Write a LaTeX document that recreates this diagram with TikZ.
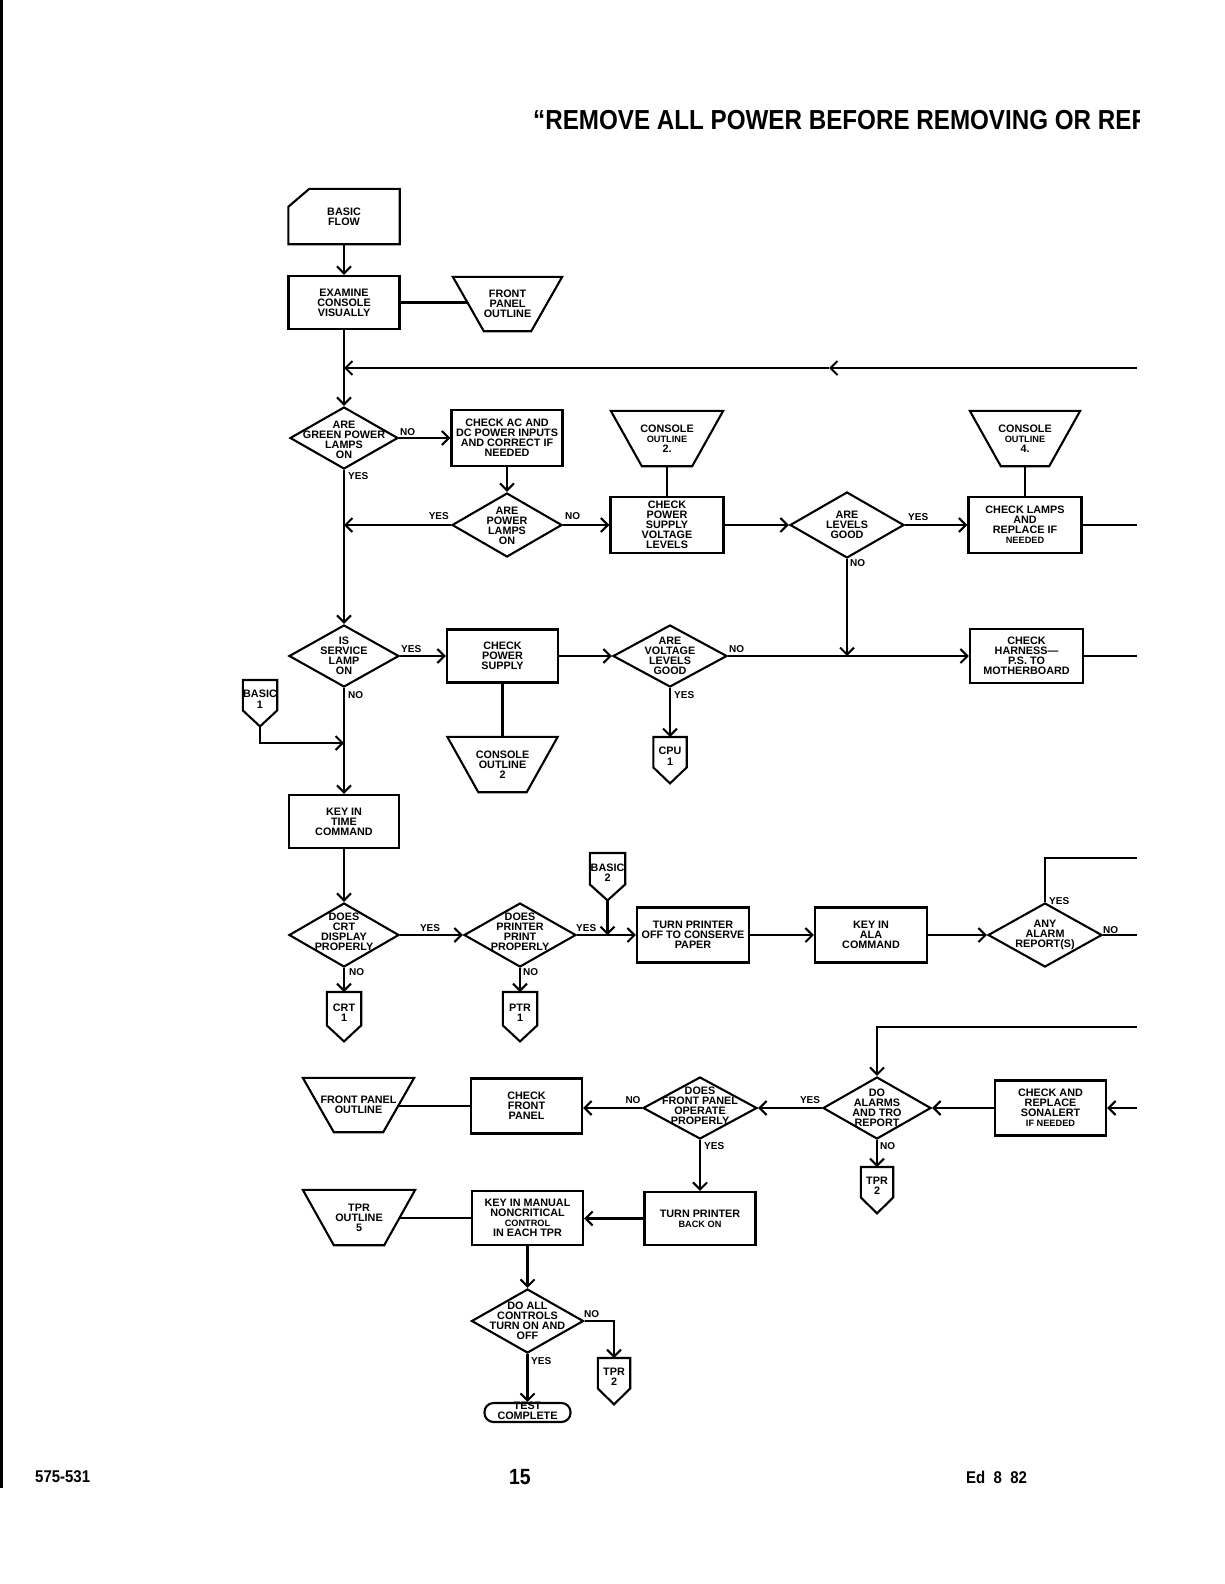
\documentclass[tikz,border=0pt]{standalone}
\usepackage{fontspec}
\setmainfont{Liberation Sans}
\newfontfamily\cond{Liberation Sans}[FakeStretch=0.88]
\usetikzlibrary{arrows.meta,shapes.geometric,calc}

\newcommand\ndfont{\fontsize{10.8pt}{10.1pt}\selectfont\bfseries}
\newcommand\lbfont{\fontsize{10pt}{10pt}\selectfont\bfseries}
\newcommand\smtxt{\fontsize{9.2pt}{10.1pt}\selectfont}

\tikzset{
 shp/.style={line width=2.1pt, line join=miter},
 box/.style={draw, line width=2.1pt, inner sep=0pt, align=center, font=\ndfont, minimum width=111pt, minimum height=55pt},
 txt/.style={inner sep=0pt, align=center, font=\ndfont},
 dia/.style={draw, diamond, line width=2.1pt, inner sep=0pt},
 trapn/.style={inner sep=0pt, align=center, font=\ndfont},
 connn/.style={inner sep=0pt},
 lbl/.style={inner sep=0pt, font=\lbfont},
 arr/.style={-{Straight Barb[length=7pt,width=14pt]}, line width=2.1pt},
 ln/.style={line width=2.1pt},
}

% trapezoid (wide top): name, x, y, top width, height, text
\newcommand\trapz[6]{%
  \node[trapn, minimum width=#4pt, minimum height=#5pt] (#1) at (#2,#3) {#6};
  \draw[shp] (#1.north west) -- (#1.north east) -- ([xshift=-31pt]#1.south east) -- ([xshift=31pt]#1.south west) -- cycle;
  \coordinate (#1-l) at ([xshift=15.5pt]#1.west);
  \coordinate (#1-r) at ([xshift=-15.5pt]#1.east);
}
% off-page connector: name, x, y top, width, body height, text
\newcommand\offp[6]{%
  \node[connn, minimum width=#4pt, minimum height=#5pt, anchor=north] (#1) at (#2,#3) {};
  \draw[shp] (#1.north west) -- (#1.north east) -- (#1.south east) -- ([yshift=-16pt]#1.south) -- (#1.south west) -- cycle;
  \node[txt] (#1-t) at ([yshift=-4pt]#1.center) {#6};
  \coordinate (#1-tip) at ([yshift=-16pt]#1.south);
}

\begin{document}
\begin{tikzpicture}[x=1pt,y=-1pt]
\useasboundingbox (0,0) rectangle (1224,1584);

% page edge and header / footer
\draw[line width=3pt] (1.5,0) -- (1.5,1488);
\begin{scope}
\clip (0,0) rectangle (1139,1584);
\node[anchor=base west, inner sep=0pt, font={\cond\fontsize{27.5pt}{30pt}\selectfont\bfseries}] (hdr) at (533,130) {“REMOVE ALL POWER BEFORE REMOVING OR REP};
\end{scope}
\node[anchor=base west, inner sep=0pt, font={\cond\fontsize{17pt}{17pt}\selectfont\bfseries}] (f1) at (35,1482) {575-531};
\node[anchor=base west, inner sep=0pt, font={\cond\fontsize{22pt}{22pt}\selectfont\bfseries}] (f2) at (509,1484) {15};
\node[anchor=base west, inner sep=0pt, font={\cond\fontsize{17pt}{17pt}\selectfont\bfseries}] (f3) at (966,1483) {Ed\ \ 8\ \ 82};

% ---------- row 1 ----------
\node[txt, minimum width=111pt, minimum height=55pt] (basic) at (344,216.5) {BASIC\\FLOW};
\draw[shp] ([yshift=-18pt]basic.north west) -- ([xshift=21pt]basic.north west) -- (basic.north east) -- (basic.south east) -- (basic.south west) -- cycle;
\node[box, minimum height=53pt] (examine) at (344,302.5) {EXAMINE\\CONSOLE\\VISUALLY};
\trapz{fpo}{507.5}{304}{109}{54}{FRONT\\PANEL\\OUTLINE}

% ---------- row 2 ----------
\node[dia, minimum width=108pt, minimum height=62pt] (green) at (344,438) {};
\node[txt] (green-t) at (344,440) {ARE\\GREEN POWER\\LAMPS\\ON};
\node[box, minimum height=56pt] (checkac) at (507,438) {CHECK AC AND\\DC POWER INPUTS\\AND CORRECT IF\\NEEDED};
\trapz{co2}{667}{438.5}{112}{55}{CONSOLE\\{\smtxt OUTLINE}\\2.}
\node[dia, minimum width=110pt, minimum height=64pt] (plamps) at (507,525) {};
\node[txt] (plamps-t) at (507,526) {ARE\\POWER\\LAMPS\\ON};
\node[box, minimum width=113pt, minimum height=56pt] (cpsvl) at (667,525) {CHECK\\POWER\\SUPPLY\\VOLTAGE\\LEVELS};
\node[dia, minimum width=114pt, minimum height=66pt] (levels) at (847,525) {};
\node[txt] (levels-t) at (847,525) {ARE\\LEVELS\\GOOD};
\trapz{co4}{1025}{438.5}{110}{55}{CONSOLE\\{\smtxt OUTLINE}\\4.}
\node[box, minimum width=113pt, minimum height=56pt] (lamps) at (1025,525) {CHECK LAMPS\\AND\\REPLACE IF\\{\smtxt NEEDED}};

% ---------- row 3 ----------
\node[dia, minimum width=110pt, minimum height=62pt] (service) at (344,656) {};
\node[txt] (service-t) at (344,656) {IS\\SERVICE\\LAMP\\ON};
\node[box, minimum height=53pt] (cps) at (502.5,656) {CHECK\\POWER\\SUPPLY};
\node[dia, minimum width=114pt, minimum height=62pt] (volt) at (670,656) {};
\node[txt] (volt-t) at (670,656) {ARE\\VOLTAGE\\LEVELS\\GOOD};
\node[box, minimum width=113pt, minimum height=54pt] (harness) at (1026.5,656) {CHECK\\HARNESS—\\P.S. TO\\MOTHERBOARD};
\trapz{co2b}{502.5}{764.5}{110}{55}{CONSOLE\\OUTLINE\\2}
\offp{cpu}{670}{737}{33}{30}{CPU\\1}
\offp{bas1}{260}{680}{34}{30}{BASIC\\1}
\node[box, minimum width=110pt, minimum height=53pt] (keytime) at (344,821.5) {KEY IN\\TIME\\COMMAND};

% ---------- row 4 ----------
\node[dia, minimum width=110pt, minimum height=64pt] (crt) at (344,935) {};
\node[txt] (crt-t) at (344,932) {DOES\\CRT\\DISPLAY\\PROPERLY};
\node[dia, minimum width=112pt, minimum height=64pt] (prn) at (520,935) {};
\node[txt] (prn-t) at (520,932) {DOES\\PRINTER\\PRINT\\PROPERLY};
\offp{crtc}{344}{992}{34}{33}{CRT\\1}
\offp{ptrc}{520}{992}{34}{33}{PTR\\1}
\offp{bas2}{607.5}{853}{35}{31}{BASIC\\2}
\node[box, minimum width=112pt] (turnoff) at (693,935) {TURN PRINTER\\OFF TO CONSERVE\\PAPER};
\node[box, minimum width=112pt] (keyala) at (871,935) {KEY IN\\ALA\\COMMAND};
\node[dia, minimum width=114pt, minimum height=64pt] (anyal) at (1045,935) {};
\node[txt] (anyal-t) at (1045,935) {ANY\\ALARM\\REPORT(S)};

% ---------- row 5 ----------
\trapz{fpo2}{358.5}{1105}{111}{54}{FRONT PANEL\\OUTLINE}
\node[box] (cfp) at (526.5,1106) {CHECK\\FRONT\\PANEL};
\node[dia, minimum width=114pt, minimum height=62pt] (dfp) at (700,1108) {};
\node[txt] (dfp-t) at (700,1106) {DOES\\FRONT PANEL\\OPERATE\\PROPERLY};
\node[dia, minimum width=108pt, minimum height=62pt] (doal) at (877,1108) {};
\node[txt] (doal-t) at (877,1108) {DO\\ALARMS\\AND TRO\\REPORT};
\node[box] (sonal) at (1050.5,1108) {CHECK AND\\REPLACE\\SONALERT\\{\smtxt IF NEEDED}};
\offp{tpra}{877}{1167}{32}{30}{TPR\\2}

% ---------- row 6 ----------
\trapz{tpr5}{359}{1217.5}{112}{55}{TPR\\OUTLINE\\5}
\node[box, minimum height=54pt] (keyman) at (527.5,1218) {KEY IN MANUAL\\NONCRITICAL\\{\smtxt CONTROL}\\IN EACH TPR};
\node[box, minimum height=53pt] (tpb) at (700,1218.5) {TURN PRINTER\\{\smtxt BACK ON}};

% ---------- row 7 ----------
\node[dia, minimum width=112pt, minimum height=64pt] (doall) at (527.5,1321) {};
\node[txt] (doall-t) at (527.5,1321) {DO ALL\\CONTROLS\\TURN ON AND\\OFF};
\offp{tprb}{614}{1358}{32}{30}{TPR\\2}
\node[draw, line width=2.1pt, rounded corners=9pt, minimum width=86pt, minimum height=19pt, inner sep=0pt] (test) at (527.5,1412.5) {};
\node[txt] (test-t) at (527.5,1411) {TEST\\COMPLETE};

% ---------- free ends ----------
\coordinate (R1) at (1137,368);
\coordinate (M1) at (829,368);
\coordinate (R2) at (1137,525);
\coordinate (R3) at (1137,656);
\coordinate (R4) at (1137,858);
\coordinate (R5) at (1137,935);
\coordinate (R6) at (1137,1027);
\coordinate (R7) at (1137,1108);
\coordinate (J1) at (344,743);

% ---------- connectors ----------
\draw[arr] (basic.south) -- (examine.north);
\draw[ln] (examine.east) -- (examine.east -| fpo-l);
\draw[arr] (examine.south) -- (green.north);
\draw[arr] (R1) -- (M1);
\draw[arr] (M1) -- (M1 -| green.north);
\draw[arr] (green.east) -- (green.east -| checkac.west);
\draw[arr] (checkac.south) -- (plamps.north);
\draw[arr] (plamps.west) -- (plamps.west -| green.south);
\draw[arr] (green.south) -- (service.north);
\draw[arr] (plamps.east) -- (plamps.east -| cpsvl.west);
\draw[ln] (co2.south) -- (cpsvl.north);
\draw[arr] (cpsvl.east) -- (levels.west);
\draw[arr] (levels.east) -- (lamps.west);
\draw[ln] (co4.south) -- (lamps.north);
\draw[ln] (lamps.east) -- (R2);
\draw[arr] (levels.south) -- (levels.south |- volt.east);
\draw[arr] (service.east) -- (cps.west);
\draw[arr] (cps.east) -- (volt.west);
\draw[arr] (volt.east) -- (harness.west);
\draw[ln] (harness.east) -- (R3);
\draw[ln] (cps.south) -- (co2b.north);
\draw[arr] (volt.south) -- (cpu.north);
\draw[arr] (bas1-tip) |- (J1);
\draw[arr] (service.south) -- (keytime.north);
\draw[arr] (keytime.south) -- (crt.north);
\draw[arr] (crt.east) -- (prn.west);
\draw[arr] (crt.south) -- (crtc.north);
\draw[arr] (prn.south) -- (ptrc.north);
\draw[arr] (prn.east) -- (turnoff.west);
\draw[arr] (bas2-tip) -- (bas2-tip |- prn.east);
\draw[arr] (turnoff.east) -- (keyala.west);
\draw[arr] (keyala.east) -- (anyal.west);
\draw[ln] (anyal.north) |- (R4);
\draw[ln] (anyal.east) -- (R5);
\draw[arr] (R6) -| (doal.north);
\draw[arr] (R7) -- (sonal.east);
\draw[arr] (sonal.west) -- (doal.east);
\draw[arr] (doal.west) -- (dfp.east);
\draw[arr] (doal.south) -- (tpra.north);
\draw[arr] (dfp.west) -- (dfp.west -| cfp.east);
\draw[ln] (cfp.west) -- (cfp.west -| fpo2-r);
\draw[arr] (dfp.south) -- (tpb.north);
\draw[arr] (tpb.west) -- (tpb.west -| keyman.east);
\draw[ln] (keyman.west) -- (keyman.west -| tpr5-r);
\draw[arr] (keyman.south) -- (doall.north);
\draw[arr] (doall.east) -| (tprb.north);
\draw[arr] (doall.south) -- (test.north);

% ---------- labels ----------
\node[lbl, anchor=west] (l1) at (400,432) {NO};
\node[lbl, anchor=west] (l2) at (348,476) {YES};
\node[lbl, anchor=east] (l3) at (449,516) {YES};
\node[lbl, anchor=west] (l4) at (565,516) {NO};
\node[lbl, anchor=west] (l5) at (908,517) {YES};
\node[lbl, anchor=west] (l6) at (850,563) {NO};
\node[lbl, anchor=west] (l7) at (401,649) {YES};
\node[lbl, anchor=west] (l8) at (348,695) {NO};
\node[lbl, anchor=west] (l9) at (729,649) {NO};
\node[lbl, anchor=west] (l10) at (674,695) {YES};
\node[lbl] (l11) at (430,928) {YES};
\node[lbl, anchor=west] (l12) at (349,972) {NO};
\node[lbl, anchor=west] (l13) at (523,972) {NO};
\node[lbl, anchor=west] (l14) at (576,928) {YES};
\node[lbl, anchor=west] (l15) at (1049,901) {YES};
\node[lbl, anchor=west] (l16) at (1103,930) {NO};
\node[lbl] (l17) at (810,1100) {YES};
\node[lbl, anchor=west] (l18) at (880,1146) {NO};
\node[lbl] (l19) at (633,1100) {NO};
\node[lbl, anchor=west] (l20) at (704,1146) {YES};
\node[lbl, anchor=west] (l21) at (584,1314) {NO};
\node[lbl, anchor=west] (l22) at (531,1361) {YES};
\end{tikzpicture}
\end{document}
